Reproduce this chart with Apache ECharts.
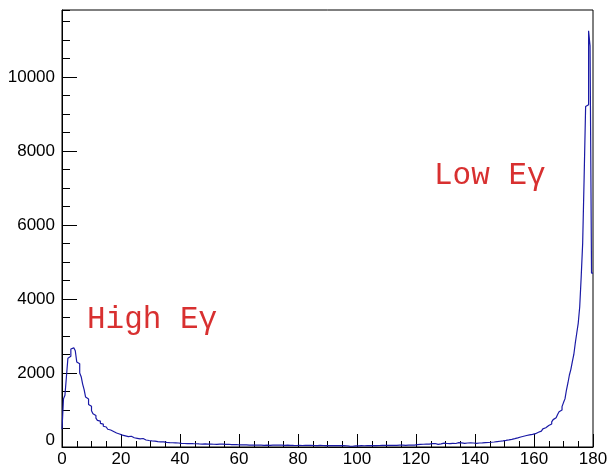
<!DOCTYPE html>
<html>
<head>
<meta charset="utf-8">
<script src="https://cdn.jsdelivr.net/npm/echarts@6/dist/echarts.min.js"></script>
<style>
html,body{margin:0;padding:0;background:#fff;}
#chart{width:611px;height:470px;}
</style>
</head>
<body>
<div id="chart"></div>
<script>
// Histogram: 360 bins of 0.5 degree over [0, 180]
const binWidth = 0.5;
const xMin = 0, xMax = 180;
const yMax = 11810;
const xTicks = [0, 20, 40, 60, 80, 100, 120, 140, 160, 180];
const yTicks = [0, 2000, 4000, 6000, 8000, 10000];
const counts = [
  480,1300,1400,1900,2400,2450,2650,2680,2680,2600,
  2300,2250,2000,1900,1700,1550,1350,1300,1150,1100,
  980,900,850,780,720,700,640,620,560,540,
  500,480,460,430,420,400,380,370,350,340,
  320,330,300,290,280,270,290,260,250,240,
  235,240,220,210,230,200,190,185,175,170,
  165,175,160,150,145,160,140,135,140,130,
  125,120,118,125,115,110,112,105,108,100,
  100,98,95,102,92,90,95,88,90,85,
  88,85,82,86,80,78,82,75,78,76,
  80,70,74,85,72,68,80,70,78,66,
  70,64,75,62,66,60,68,58,62,60,
  58,55,60,52,56,54,50,55,52,50,
  52,48,50,54,48,50,46,50,48,52,
  46,48,50,44,48,46,50,45,48,44,
  46,44,48,42,46,44,42,46,40,44,
  42,44,40,42,44,40,42,38,42,40,
  40,42,38,40,42,38,40,42,38,40,
  38,40,36,40,38,36,38,40,36,38,
  36,38,34,30,26,22,20,24,28,26,
  30,34,36,38,34,36,38,36,40,38,
  38,40,38,42,40,38,42,40,42,44,
  42,44,46,42,44,48,46,44,48,46,
  48,50,46,50,52,48,50,54,52,56,
  62,80,70,85,75,90,78,95,80,70,
  90,75,95,85,70,100,85,90,105,80,
  95,110,90,105,100,115,95,110,120,100,
  110,105,100,115,108,112,110,105,108,110,
  100,105,108,110,112,115,118,120,122,126,
  128,132,135,140,145,150,155,160,165,171,
  178,185,192,200,208,216,225,235,245,260,
  270,279,290,298,310,320,326,330,342,350,
  360,380,400,405,430,460,490,520,567,580,
  594,620,680,740,790,838,880,955,1000,1090,
  1200,1300,1540,1730,1946,2100,2306,2500,2810,3080,
  3350,3790,4600,5510,7300,9200,9250,11250,10840,4700
];
const annotations = [
  {text: 'High E\u03b3', left: 87, top: 304},
  {text: 'Low E\u03b3', left: 434, top: 160}
];

const stepData = counts.map((c, i) => [i * binWidth, c]);
stepData.push([xMax, counts[counts.length - 1]]);

const chart = echarts.init(document.getElementById('chart'), null, {renderer: 'canvas'});
const labelFont = {color: '#000', fontFamily: 'Liberation Sans, Arial, sans-serif', fontSize: 17};
chart.setOption({
  animation: false,
  backgroundColor: '#fff',
  grid: {left: 62, right: 18, top: 10, bottom: 23, show: true, borderColor: '#000', borderWidth: 1, backgroundColor: 'transparent'},
  xAxis: [
    {type: 'value', min: xMin, max: xMax, interval: 20, position: 'bottom',
     axisLine: {show: true, onZero: false, lineStyle: {color: '#000', width: 1}},
     axisTick: {show: true, inside: true, length: 13, lineStyle: {color: '#000'}},
     axisLabel: Object.assign({margin: 4, formatter: v => xTicks.includes(v) ? String(v) : ''}, labelFont),
     splitLine: {show: false}},
    {type: 'value', min: xMin, max: xMax, interval: 5, position: 'bottom',
     axisLine: {show: false, onZero: false},
     axisTick: {show: true, inside: true, length: 6, lineStyle: {color: '#000'}},
     axisLabel: {show: false}, splitLine: {show: false}}
  ],
  yAxis: [
    {type: 'value', min: 0, max: yMax, interval: 2000, position: 'left',
     axisLine: {show: true, onZero: false, lineStyle: {color: '#000', width: 1}},
     axisTick: {show: true, inside: true, length: 15, lineStyle: {color: '#000'}},
     axisLabel: Object.assign({margin: 7, showMaxLabel: false,
       formatter: v => v === 0 ? '{z|0}' : (yTicks.includes(v) ? String(v) : ''),
       rich: {z: {fontSize: 17, fontFamily: 'Liberation Sans, Arial, sans-serif', color: '#000', padding: [0, 0, 14, 0]}}
     }, labelFont),
     splitLine: {show: false}},
    {type: 'value', min: 0, max: yMax, interval: 500, position: 'left',
     axisLine: {show: false, onZero: false},
     axisTick: {show: true, inside: true, length: 8, lineStyle: {color: '#000'}},
     axisLabel: {show: false}, splitLine: {show: false}}
  ],
  series: [{
    type: 'line', xAxisIndex: 0, yAxisIndex: 0, step: 'end',
    data: stepData, showSymbol: false, symbol: 'none',
    lineStyle: {color: '#1a1aa6', width: 1.2}, z: 3
  }],
  graphic: annotations.map(a => ({
    type: 'text', left: a.left, top: a.top,
    style: {text: a.text, fill: '#d83030', font: '31px "Liberation Mono", "DejaVu Sans Mono", monospace'}
  }))
});
</script>
</body>
</html>
